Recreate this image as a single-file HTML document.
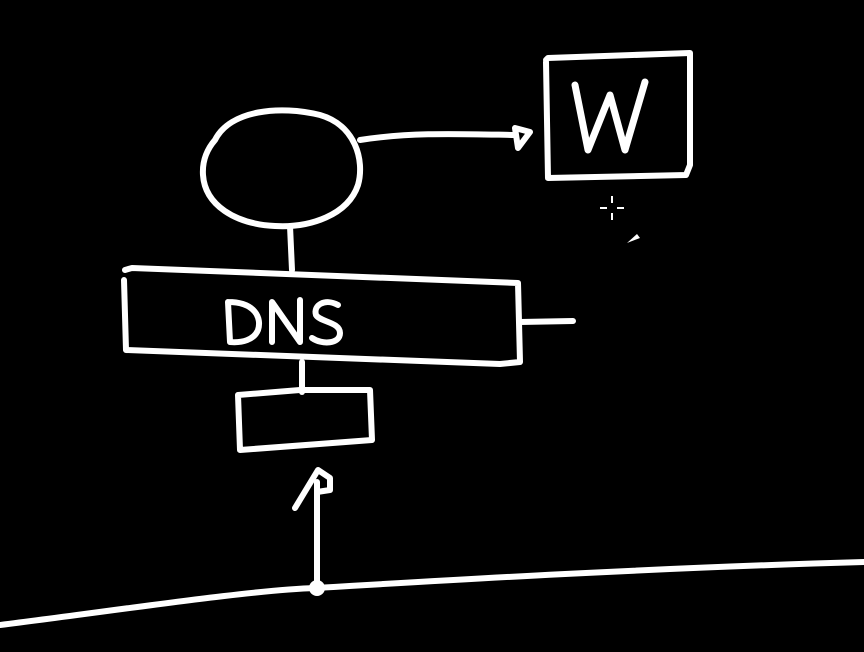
<!DOCTYPE html>
<html><head><meta charset="utf-8"><style>
html,body{margin:0;padding:0;background:#000;}
svg{display:block;}
text{font-family:"Liberation Sans",sans-serif;fill:#fff;}
</style></head><body>
<svg width="864" height="652" viewBox="0 0 864 652" xmlns="http://www.w3.org/2000/svg">
<g fill="none" stroke="#fff" stroke-width="6" stroke-linecap="round" stroke-linejoin="round">
<!-- W box -->
<path d="M546 60 L548 58 L690 53 L690 165 L686 175 L548 178 L546 62"/>
<path d="M575 85 L588 150 L610 95 L625 150 L645 82" stroke-width="7"/>
<!-- ellipse -->
<path d="M215 140 C230 110 280 105 320 115 C355 125 365 160 358 185 C348 215 310 228 275 226 C235 224 205 205 203 175 C202 160 208 148 215 140 Z"/>
<!-- line to W with arrow -->
<path d="M360 140 C410 132 460 134 515 135"/>
<path d="M515 128 L530 132 L518 148 L515 128 Z"/>
<!-- ellipse to DNS -->
<path d="M290 226 L292 270"/>
<!-- DNS box -->
<path d="M125 270 L132 268 L518 283 L520 362 L500 364 L126 350 L124 280"/>
<path d="M520 322 L573 321"/>
<!-- DNS to small box -->
<path d="M302 362 L302 392"/>
<!-- small box -->
<path d="M238 395 L300 390 L370 390 L372 440 L240 450 L238 395 Z"/>
<!-- up arrow -->
<path d="M317 588 L317 482"/>
<path d="M295 508 L318 470 L330 478 L330 490 L317 492" />
<!-- ground line -->
<path d="M0 625 C120 610 250 590 316 588 C450 580 650 568 864 562"/>
</g>
<circle cx="317" cy="588" r="8" fill="#fff"/>
<!-- DNS text -->
<g fill="none" stroke="#fff" stroke-width="6" stroke-linecap="round" stroke-linejoin="round">
<path d="M228 302 L230 342 M228 302 C255 302 262 318 258 330 C254 340 242 343 230 342"/>
<path d="M272 342 L272 302 L300 342 L300 300"/>
<path d="M338 305 C325 298 313 305 316 315 C320 322 340 322 340 333 C340 344 322 345 312 338"/>
</g>
<!-- cursor -->
<g stroke="#fff" stroke-width="2" fill="none">
<path d="M600 208 L607 208 M617 208 L624 208 M612 196 L612 203 M612 213 L612 220"/>
</g>
<path d="M627 243 L637 234 L640 238 Z" fill="#fff"/>
</svg>
</body></html>
